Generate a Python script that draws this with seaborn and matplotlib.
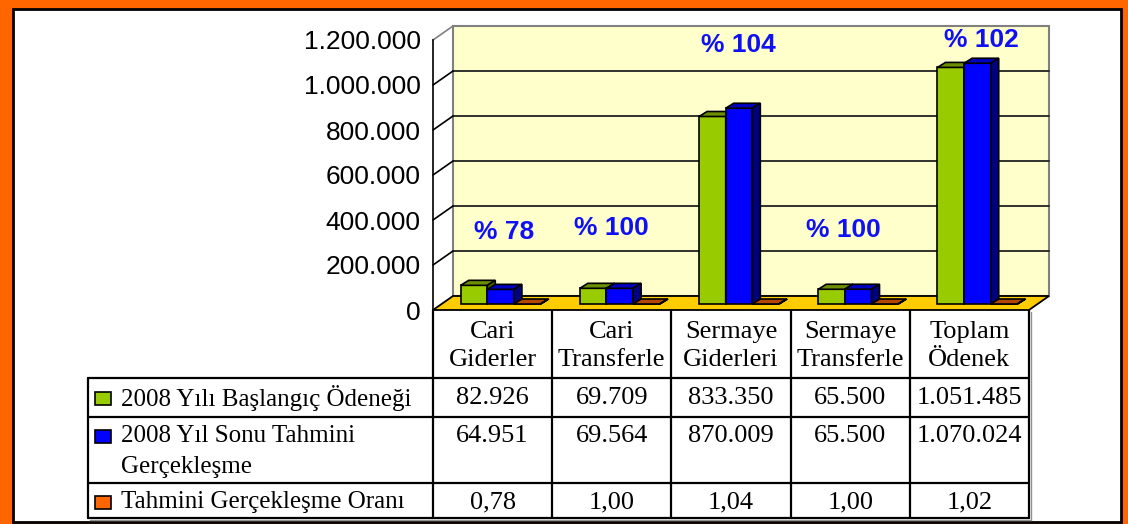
#%% modules
import pandas as pd
import seaborn as sns
import matplotlib.pyplot as plt
from matplotlib.patches import Rectangle, Polygon
from matplotlib.ticker import FuncFormatter

#%% data
categories = ["Cari\nGiderler", "Cari\nTransferle", "Sermaye\nGiderleri",
              "Sermaye\nTransferle", "Toplam\nÖdenek"]
series = ["2008 Yılı Başlangıç Ödeneği",
          "2008 Yıl Sonu Tahmini\nGerçekleşme",
          "Tahmini Gerçekleşme Oranı"]
baslangic = [82926, 69709, 833350, 65500, 1051485]
yil_sonu = [64951, 69564, 870009, 65500, 1070024]
oran = [0.78, 1.00, 1.04, 1.00, 1.02]
y_ticks = [0, 200000, 400000, 600000, 800000, 1000000, 1200000]

# layout of the "% .." boxes (x shift in category units, y in data units)
label_dx = [0.10, 0.0, 0.06, -0.06, 0.10]
label_y = [347000, 364000, 1178000, 356000, 1200000]

colors = ["#99CC00", "#0000FF", "#FF6600"]

#%% long table for seaborn
df = pd.DataFrame({
    "kategori": categories * 3,
    "seri": [s for s in series for _ in categories],
    "deger": baslangic + yil_sonu + oran,
})

#%% figure
sns.set_style("white")
plt.rcParams["font.family"] = ["Liberation Sans", "DejaVu Sans"]

W, H = 1128, 524
fig = plt.figure(figsize=(W / 100, H / 100), dpi=100, facecolor="#FF6600")

bg = fig.add_axes([0, 0, 1, 1])
bg.set_xlim(0, W)
bg.set_ylim(H, 0)
bg.axis("off")
bg.add_patch(Rectangle((13, 9), 1108, 513, facecolor="white", edgecolor="black", lw=2))

# front plane of the 3D plot
left, right, base, top = 433, 1029, 310, 40
ax = fig.add_axes([left / W, (H - base) / H, (right - left) / W, (base - top) / H])
ax.set_zorder(2)
ax.patch.set_visible(False)

sns.barplot(data=df, x="kategori", y="deger", hue="seri", palette=colors,
            saturation=1, width=0.67, edgecolor="black", linewidth=1.2,
            legend=False, ax=ax)
bars = [p for p in ax.patches if isinstance(p, Rectangle)]

ax.set_xlim(-0.5, 4.5)
ax.set_ylim(0, 1200000)
ax.set_xlabel("")
ax.set_ylabel("")
ax.set_xticks([])
ax.set_yticks(y_ticks)
ax.yaxis.set_major_formatter(FuncFormatter(lambda v, p: f"{v:,.0f}".replace(",", ".")))
ax.tick_params(axis="y", direction="out", length=5, width=1.2, pad=4, labelsize=19,
               color="black", labelcolor="black")
for s in ["top", "right", "bottom"]:
    ax.spines[s].set_visible(False)
ax.spines["left"].set_linewidth(1.2)
ax.spines["left"].set_color("black")

ppx = (right - left) / 5
ppy = (base - top) / 1200000


def off(px, py):
    return px / ppx, py / ppy


#%% walls and floor
wx, wy = off(20, 14)
ax.add_patch(Rectangle((-0.5 + wx, wy), 5, 1200000, facecolor="#FFFFCC",
                       edgecolor="#808080", lw=1.5, zorder=0, clip_on=False))
for v in y_ticks[1:-1]:
    ax.plot([-0.5 + wx, 4.5 + wx], [v + wy, v + wy], color="#222222", lw=1.3,
            zorder=1, clip_on=False)
for v in y_ticks[1:]:
    ax.plot([-0.5, -0.5 + wx], [v, v + wy], color="black" if v < 1200000 else "#808080",
            lw=1.2, zorder=1, clip_on=False)
ax.add_patch(Polygon([(-0.5, 0), (4.5, 0), (4.5 + wx, wy), (-0.5 + wx, wy)],
                     closed=True, facecolor="#FFCC00", edgecolor="black", lw=1.3,
                     zorder=2, clip_on=False))

#%% 3D bars
bx, by = off(8, 6)
dx, dy = off(8, 5)
n = len(categories)
for i, p in enumerate(bars):
    level = i // n
    p.set_x(p.get_x() + bx)
    p.set_y(p.get_y() + by)
    p.set_clip_on(False)
    p.set_zorder(3 + level)
    r, g, b, a = p.get_facecolor()
    x0, x1 = p.get_x(), p.get_x() + p.get_width()
    y0, y1 = p.get_y(), p.get_y() + p.get_height()
    ax.add_patch(Polygon([(x0, y1), (x1, y1), (x1 + dx, y1 + dy), (x0 + dx, y1 + dy)],
                         closed=True, facecolor=(r * 0.7, g * 0.7, b * 0.75),
                         edgecolor="black", lw=1.2, zorder=3 + level, clip_on=False))
    ax.add_patch(Polygon([(x1, y0), (x1 + dx, y0 + dy), (x1 + dx, y1 + dy), (x1, y1)],
                         closed=True, facecolor=(r * 0.5, g * 0.5, b * 0.5),
                         edgecolor="black", lw=1.2, zorder=3 + level, clip_on=False))

#%% ratio labels
for i, r in enumerate(oran):
    ax.text(i + label_dx[i], label_y[i], f"% {round(r * 100)}", ha="center", va="center",
            color="#1010F5", fontsize=19, fontweight="bold", zorder=10, clip_on=False)

#%% data table under the chart
tab_font = dict(family="Liberation Serif", fontsize=19, color="black")
name_font = dict(family="Liberation Serif", fontsize=18, color="black")
col_w = (right - left) / 5
edges = [left + col_w * k for k in range(6)]
lab_left = 88
row_lines = [378, 417, 483, 518]

bg.plot([left, left], [base, row_lines[-1]], color="black", lw=1.6)
for e in edges[1:]:
    bg.plot([e, e], [base, row_lines[-1]], color="black", lw=1.6)
bg.plot([lab_left, lab_left], [row_lines[0], row_lines[-1]], color="black", lw=1.6)
for y in row_lines:
    bg.plot([lab_left, edges[-1]], [y, y], color="black", lw=1.6)
# light shadow on the right/bottom of the table
bg.plot([edges[-1] + 2, edges[-1] + 2], [base + 2, row_lines[-1] + 2], color="#909090", lw=1)
bg.plot([lab_left + 2, edges[-1] + 2], [row_lines[-1] + 2, row_lines[-1] + 2], color="#909090", lw=1)

for k, c in enumerate(categories):
    cx = (edges[k] + edges[k + 1]) / 2
    for j, line in enumerate(c.split("\n")):
        bg.text(cx, 332 + 28 * j, line, ha="center", va="center", **tab_font)


def fmt_int(v):
    return f"{v:,.0f}".replace(",", ".")


rows = [[fmt_int(v) for v in baslangic],
        [fmt_int(v) for v in yil_sonu],
        [f"{v:.2f}".replace(".", ",") for v in oran]]
row_text_y = [398, 436, 502]
for r_i, (name, vals) in enumerate(zip(series, rows)):
    ty = row_text_y[r_i]
    bg.add_patch(Rectangle((95, ty - 6.5), 16, 13, facecolor=colors[r_i],
                           edgecolor="black", lw=1.2))
    for j, line in enumerate(name.split("\n")):
        bg.text(121, ty + 31 * j, line, ha="left", va="center", **name_font)
    for k, v in enumerate(vals):
        cx = (edges[k] + edges[k + 1]) / 2
        bg.text(cx, ty, v, ha="center", va="center", **tab_font)

#%% save
fig.savefig("out.png", dpi=100, facecolor=fig.get_facecolor())
